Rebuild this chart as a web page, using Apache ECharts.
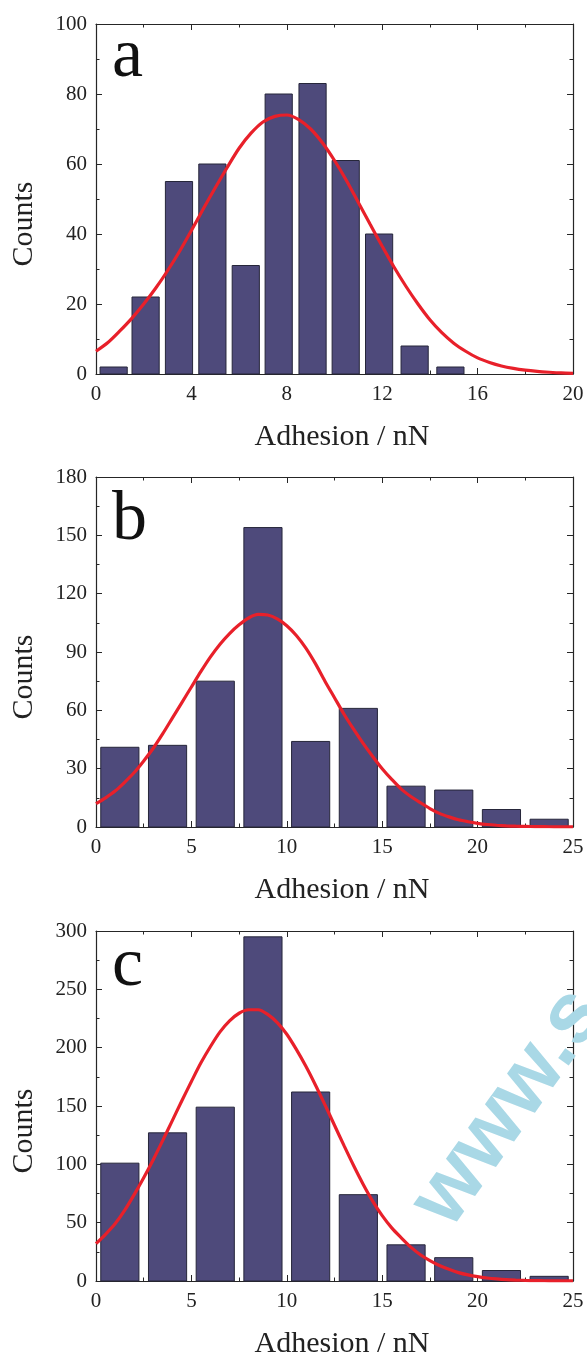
<!DOCTYPE html>
<html>
<head>
<meta charset="utf-8">
<title>Adhesion histograms</title>
<script src="https://cdn.jsdelivr.net/npm/echarts@6/dist/echarts.min.js"></script>
<style>
  html, body { margin: 0; padding: 0; background: #fff; }
  #main { width: 587px; height: 1356px; }
</style>
</head>
<body>
<div id="main"></div>
<script>
// bin centres (nN) and counts
var binA = [0.74, 2.08, 3.48, 4.88, 6.28, 7.66, 9.08, 10.47, 11.87, 13.36, 14.86];
var countsA = [2, 22, 55, 60, 31, 80, 83, 61, 40, 8, 2];
var binBC = [1.25, 3.75, 6.25, 8.75, 11.25, 13.75, 16.25, 18.75, 21.25, 23.75];
var countsB = [41, 42, 75, 154, 44, 61, 21, 19, 9, 4];
var countsC = [101, 127, 149, 295, 162, 74, 31, 20, 9, 4];

// fitted curves, every 0.5 nN
var fitXA = [0, 0.5, 1, 1.5, 2, 2.5, 3, 3.5, 4, 4.5, 5, 5.5, 6, 6.5, 7, 7.5, 8, 8.5, 9, 9.5,
  10, 10.5, 11, 11.5, 12, 12.5, 13, 13.5, 14, 14.5, 15, 15.5, 16, 16.5, 17, 17.5, 18, 18.5, 19, 19.5, 20];
var fitA = [6.5, 9, 12.3, 15.9, 20, 24.5, 29.5, 35, 41, 47.2, 53.2, 59, 64.5, 68.8, 72, 73.6, 74, 72.7, 70, 66,
  61, 55.3, 49, 42.7, 36.5, 30.5, 25, 20, 15.5, 11.8, 8.8, 6.5, 4.6, 3.3, 2.3, 1.6, 1.1, 0.75, 0.5, 0.3, 0.2];
var fitXBC = [0, 0.5, 1, 1.5, 2, 2.5, 3, 3.5, 4, 4.5, 5, 5.5, 6, 6.5, 7, 7.5, 8, 8.5, 9, 9.5,
  10, 10.5, 11, 11.5, 12, 12.5, 13, 13.5, 14, 14.5, 15, 15.5, 16, 16.5, 17, 17.5, 18, 18.5, 19, 19.5,
  20, 20.5, 21, 21.5, 22, 22.5, 23, 23.5, 24, 24.5, 25];
var fitB = [12, 15, 18.5, 23, 28, 34, 40.5, 48, 56, 64, 72, 80, 87.5, 94, 99.5, 104, 107.5, 109.3, 109, 107,
  103.5, 98.5, 92, 84, 75, 66.5, 58, 50.3, 43, 36.3, 30, 24.5, 19.5, 15.7, 12.5, 9.5, 7, 5.2, 3.7, 2.7,
  1.9, 1.3, 0.9, 0.6, 0.4, 0.3, 0.2, 0.15, 0.1, 0.07, 0.05];
var fitC = [32, 40, 49, 60.5, 74, 88.5, 104, 120.5, 137.5, 154.5, 171, 187, 201, 213.5, 223, 229.5, 232.5, 232.5, 228.5, 221.5,
  211.5, 198.5, 184, 168, 151, 133.5, 116, 99, 83, 68.5, 56, 45.5, 37, 29, 22.5, 17.5, 13.3, 10, 7.2, 5.2,
  3.7, 2.6, 1.8, 1.2, 0.8, 0.5, 0.3, 0.2, 0.1, 0.07, 0.05];

// tick settings per panel
var xTicksA = { max: 20, interval: 4 };
var yTicksA = { max: 100, interval: 20 };
var xTicksBC = { max: 25, interval: 5 };
var yTicksB = { max: 180, interval: 30 };
var yTicksC = { max: 300, interval: 50 };

var FONT = 'Liberation Serif';
var BAR_COLOR = '#4e4a7b';
var FIT_COLOR = '#e8202a';
var AXIS_COLOR = '#262626';

var panels = [
  { top: 24, letter: 'a', letterY: 58, bins: binA, counts: countsA, barW: 1.14, fitX: fitXA, fitY: fitA, xt: xTicksA, yt: yTicksA },
  { top: 477, letter: 'b', letterY: 521, bins: binBC, counts: countsB, barW: 2.0, fitX: fitXBC, fitY: fitB, xt: xTicksBC, yt: yTicksB },
  { top: 931, letter: 'c', letterY: 967, bins: binBC, counts: countsC, barW: 2.0, fitX: fitXBC, fitY: fitC, xt: xTicksBC, yt: yTicksC }
];

function makeAxis(gridIndex, position, ticks, withLabels) {
  return {
    type: 'value',
    gridIndex: gridIndex,
    position: position,
    min: 0,
    max: ticks.max,
    interval: ticks.interval,
    axisLine: { show: true, onZero: false, lineStyle: { color: AXIS_COLOR, width: 1.2 } },
    axisTick: { show: true, inside: true, length: 6, lineStyle: { color: AXIS_COLOR, width: 1 } },
    minorTick: { show: true, splitNumber: 2, length: 3.5, lineStyle: { color: AXIS_COLOR, width: 1 } },
    splitLine: { show: false },
    minorSplitLine: { show: false },
    axisLabel: {
      show: withLabels,
      margin: (position === 'bottom') ? 10 : 9,
      color: '#222',
      fontFamily: FONT,
      fontSize: 21
    }
  };
}

var grids = [], xAxes = [], yAxes = [], series = [];

panels.forEach(function (p, i) {
  grids.push({ left: 96, top: p.top, width: 477, height: 350, containLabel: false });

  // bottom + mirrored top, left + mirrored right
  xAxes.push(makeAxis(i, 'bottom', p.xt, true));
  xAxes.push(makeAxis(i, 'top', p.xt, false));
  yAxes.push(makeAxis(i, 'left', p.yt, true));
  yAxes.push(makeAxis(i, 'right', p.yt, false));

  var barData = p.bins.map(function (x, k) { return [x, p.counts[k]]; });
  var barW = p.barW;
  series.push({
    type: 'custom',
    xAxisIndex: i * 2,
    yAxisIndex: i * 2,
    data: barData,
    z: 2,
    renderItem: function (params, api) {
      var x = api.value(0);
      var topLeft = api.coord([x - barW / 2, api.value(1)]);
      var bottomRight = api.coord([x + barW / 2, 0]);
      return {
        type: 'rect',
        shape: {
          x: topLeft[0],
          y: topLeft[1],
          width: bottomRight[0] - topLeft[0],
          height: bottomRight[1] - topLeft[1]
        },
        style: { fill: BAR_COLOR, stroke: '#26263a', lineWidth: 1 }
      };
    }
  });

  series.push({
    type: 'line',
    xAxisIndex: i * 2,
    yAxisIndex: i * 2,
    data: p.fitX.map(function (x, k) { return [x, p.fitY[k]]; }),
    smooth: 0.3,
    showSymbol: false,
    clip: true,
    z: 3,
    lineStyle: { color: FIT_COLOR, width: 3.2 }
  });
});

// panel letters and axis titles
var graphics = [];
panels.forEach(function (p) {
  graphics.push({
    type: 'text',
    x: 112,
    y: p.letterY,
    style: { text: p.letter, font: '70px "' + FONT + '"', fill: '#111', textAlign: 'left', textVerticalAlign: 'middle' },
    z: 10
  });
  graphics.push({
    type: 'text',
    x: 342,
    y: p.top + 350 + 63,
    style: { text: 'Adhesion / nN', font: '30px "' + FONT + '"', fill: '#222', textAlign: 'center', textVerticalAlign: 'middle' },
    z: 10
  });
  graphics.push({
    type: 'text',
    x: 24,
    y: p.top + 175 + 25,
    rotation: Math.PI / 2,
    style: { text: 'Counts', font: '30px "' + FONT + '"', fill: '#222', textAlign: 'center', textVerticalAlign: 'middle' },
    z: 10
  });
});
// faint watermark in the lower panel
graphics.push({
  type: 'text',
  x: 466,
  y: 1242,
  rotation: 0.95,
  style: { text: 'www.s', font: 'bold 86px "Liberation Sans"', fill: '#a9d8e6', textAlign: 'left', textVerticalAlign: 'bottom' },
  z: 1
});

var chart = echarts.init(document.getElementById('main'), null, { renderer: 'canvas' });
chart.setOption({
  backgroundColor: '#fff',
  animation: false,
  grid: grids,
  xAxis: xAxes,
  yAxis: yAxes,
  series: series,
  graphic: graphics
});
</script>
</body>
</html>
